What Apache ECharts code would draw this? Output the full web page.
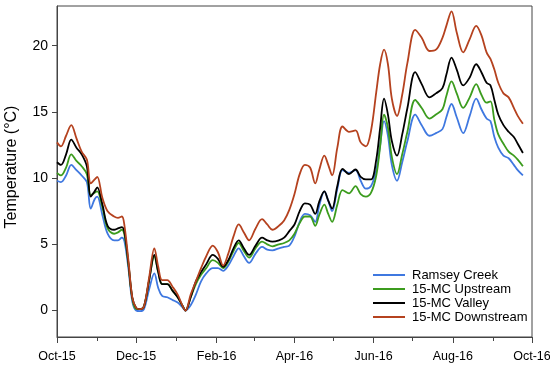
<!DOCTYPE html>
<html><head><meta charset="utf-8">
<script src="https://cdn.jsdelivr.net/npm/echarts@6/dist/echarts.min.js"></script>
<style>html,body{margin:0;padding:0;background:#fff}#c{width:550px;height:366px}</style>
</head><body><div id="c"></div>
<script>
const dates = ['2015-10-01','2015-10-04','2015-10-08','2015-10-12','2015-10-16','2015-10-20','2015-10-24','2015-10-27','2015-10-30',
'2015-11-01','2015-11-05','2015-11-09','2015-11-14','2015-11-17','2015-11-20','2015-11-22','2015-11-25','2015-11-28',
'2015-12-01','2015-12-04','2015-12-07','2015-12-11','2015-12-15','2015-12-18','2015-12-21','2015-12-25','2015-12-29',
'2016-01-02','2016-01-06','2016-01-08','2016-01-12','2016-01-16','2016-01-20','2016-01-24','2016-01-29',
'2016-02-02','2016-02-06','2016-02-10','2016-02-14','2016-02-18','2016-02-22','2016-02-26',
'2016-03-02','2016-03-07','2016-03-11','2016-03-15','2016-03-20','2016-03-24','2016-03-28',
'2016-04-01','2016-04-05','2016-04-09','2016-04-13','2016-04-17','2016-04-20','2016-04-24','2016-04-27','2016-04-30',
'2016-05-04','2016-05-08','2016-05-13','2016-05-18','2016-05-22','2016-05-26','2016-05-30',
'2016-06-03','2016-06-06','2016-06-09','2016-06-12','2016-06-15','2016-06-19','2016-06-23','2016-06-27',
'2016-07-03','2016-07-08','2016-07-14','2016-07-19','2016-07-24','2016-07-27','2016-07-31',
'2016-08-04','2016-08-09','2016-08-14','2016-08-19','2016-08-23','2016-08-27','2016-08-30',
'2016-09-02','2016-09-05','2016-09-09','2016-09-13','2016-09-17','2016-09-20','2016-09-24'];

const ramseyCreek = [9.8,9.7,10.2,11.0,10.6,10.2,9.7,7.7,8.4,
8.6,7.2,5.8,5.3,5.3,5.5,5.2,3.2,0.7,
0.0,-0.05,0.1,1.6,2.8,1.7,1.1,1.0,0.8,
0.6,0.2,0.0,0.4,1.2,2.2,2.8,3.2,
3.2,3.0,3.4,4.1,4.7,4.1,3.6,
4.3,4.8,4.6,4.55,4.7,4.8,4.9,
5.6,6.7,7.3,7.2,6.7,7.9,9.0,8.3,7.5,
9.2,10.6,10.4,10.6,9.8,9.2,9.4,
10.6,12.5,14.3,13.2,11.0,9.8,11.2,12.8,
14.8,14.0,13.2,13.4,13.7,14.6,15.6,
14.6,13.4,14.7,16.0,15.2,14.5,14.3,
13.1,12.3,11.7,11.5,11.0,10.6,10.2];

const upstream = [10.4,10.2,10.8,11.8,11.3,10.9,10.3,8.7,8.9,
9.0,7.8,6.2,5.8,5.9,6.1,5.7,3.5,0.9,
0.1,0.1,0.3,2.3,4.1,2.9,2.0,2.0,1.5,
1.0,0.3,0.0,1.0,2.0,2.7,3.2,3.8,
3.6,3.2,3.7,4.5,5.1,4.5,4.0,
4.7,5.2,5.0,4.85,5.0,5.1,5.3,
5.8,6.6,7.1,7.1,6.4,7.2,8.0,7.3,6.7,
8.0,9.1,8.85,9.4,8.8,8.6,8.9,
10.2,12.4,14.8,13.8,11.6,10.3,11.8,13.5,
15.9,15.3,14.5,14.8,15.2,16.2,17.3,
16.4,15.3,16.1,17.1,16.3,15.7,15.8,
14.4,13.3,12.6,12.0,11.7,11.4,10.9];

const valley = [11.2,11.0,11.8,12.9,12.3,11.8,10.9,8.6,9.0,
9.3,8.0,6.4,6.1,6.2,6.3,5.9,3.6,1.0,
0.2,0.1,0.3,2.3,4.2,2.9,2.0,2.0,1.5,
1.0,0.3,0.0,1.0,2.2,2.9,3.5,4.2,
3.9,3.3,3.8,4.7,5.3,4.7,4.2,
4.9,5.5,5.3,5.2,5.3,5.5,6.0,
6.5,7.5,8.1,8.0,7.3,8.2,9.0,8.3,7.7,
9.4,10.7,10.3,10.65,10.1,9.9,9.9,
11.4,13.8,16.0,14.8,12.8,11.7,13.3,15.3,
18.0,17.1,16.1,16.4,16.8,17.8,19.1,
18.2,17.0,17.6,18.6,18.0,17.2,17.0,
15.9,14.8,14.0,13.5,13.1,12.6,11.9];

const downstream = [12.7,12.4,13.2,14.0,13.0,12.0,11.4,9.6,9.9,
10.1,8.5,7.5,7.1,7.0,7.1,6.4,3.8,1.0,
0.2,0.1,0.3,2.5,4.7,3.3,2.3,2.3,1.8,
1.2,0.3,0.0,1.2,2.2,3.2,4.1,4.9,
4.4,3.4,4.3,5.6,6.5,5.9,5.3,
6.2,6.9,6.5,6.1,6.4,6.8,7.6,
8.8,10.3,11.0,10.8,9.6,10.6,11.7,11.0,10.2,
12.3,13.9,13.5,13.6,12.7,12.4,13.6,
16.5,18.6,19.7,18.6,16.0,14.7,16.3,18.7,
21.2,20.6,19.6,19.7,20.6,21.5,22.6,
21.0,19.5,20.5,21.5,20.8,19.5,19.0,
18.2,17.2,16.4,16.1,15.3,14.7,14.1];

const seriesNames = ['Ramsey Creek','15-MC Upstream','15-MC Valley','15-MC Downstream'];
const seriesColors = ['#3f78e0','#3c9c1e','#000000','#b5421f'];
const yTickValues = [0,5,10,15,20];
const majorTickDates = ['2015-10-01','2015-12-01','2016-02-01','2016-04-01','2016-06-01','2016-08-01','2016-10-01'];
const minorTickDates = ['2015-11-01','2016-01-01','2016-03-01','2016-05-01','2016-07-01','2016-09-01'];
const monthNames = ['Jan','Feb','Mar','Apr','May','Jun','Jul','Aug','Sep','Oct','Nov','Dec'];
const yTitle = 'Temperature (°C)';

function ts(s){const p=s.split('-');return new Date(+p[0],+p[1]-1,+p[2]).getTime();}
const FONT = '"Liberation Sans", Arial, sans-serif';
const xMin = ts('2015-10-01'), xMax = ts('2016-10-01');
const allValues = [ramseyCreek, upstream, valley, downstream];

const chart = echarts.init(document.getElementById('c'), null, {renderer:'canvas'});
chart.setOption({
  animation:false,
  backgroundColor:'#fff',
  grid:{left:57, right:18, top:6, bottom:29, show:true, borderColor:'#444', borderWidth:1, containLabel:false, outerBoundsMode:'none'},
  legend:{orient:'vertical', left:368, top:265, itemWidth:32, itemHeight:2, itemGap:0, icon:'rect', padding:[3,5,3,5],
    textStyle:{fontSize:13, color:'#000', fontFamily:FONT, lineHeight:14, padding:[0,0,0,2]},
    data:seriesNames},
  xAxis:[{
    type:'value', min:xMin, max:xMax, position:'bottom', scale:true,
    axisLine:{show:true, onZero:false, lineStyle:{color:'#444', width:1}},
    axisTick:{show:true, length:6, inside:false, customValues:majorTickDates.map(ts), lineStyle:{color:'#444'}},
    axisLabel:{show:true, customValues:majorTickDates.map(ts), margin:13, fontSize:12.5, color:'#000', fontFamily:FONT,
      hideOverlap:false, showMinLabel:true, showMaxLabel:true,
      formatter:function(v){const d=new Date(v);return monthNames[d.getMonth()]+'-'+String(d.getFullYear()).slice(2);}},
    splitLine:{show:false}
  },{
    type:'value', min:xMin, max:xMax, position:'bottom', scale:true,
    axisLine:{show:false, onZero:false},
    axisTick:{show:true, length:4, inside:false, customValues:minorTickDates.map(ts), lineStyle:{color:'#444'}},
    axisLabel:{show:false},
    splitLine:{show:false}
  }],
  yAxis:{
    type:'value', min:-2, max:23,
    axisLine:{show:true, onZero:false, lineStyle:{color:'#444', width:1}},
    axisTick:{show:true, length:5, inside:false, customValues:yTickValues, lineStyle:{color:'#444'}},
    axisLabel:{show:true, customValues:yTickValues, margin:9, fontSize:14, color:'#000', fontFamily:FONT},
    splitLine:{show:false}
  },
  graphic:[{type:'text', x:11.5, y:167, rotation:Math.PI/2,
    style:{text:yTitle, fontSize:16, fill:'#000', fontFamily:FONT, align:'center', verticalAlign:'middle'}}],
  series: seriesNames.map(function(name,k){
    return {name:name, type:'line', xAxisIndex:0, symbol:'none', smooth:0.35,
      lineStyle:{color:seriesColors[k], width:1.8}, itemStyle:{color:seriesColors[k]},
      data: dates.map(function(d,i){return [ts(d), allValues[k][i]];})};
  })
});
</script></body></html>
